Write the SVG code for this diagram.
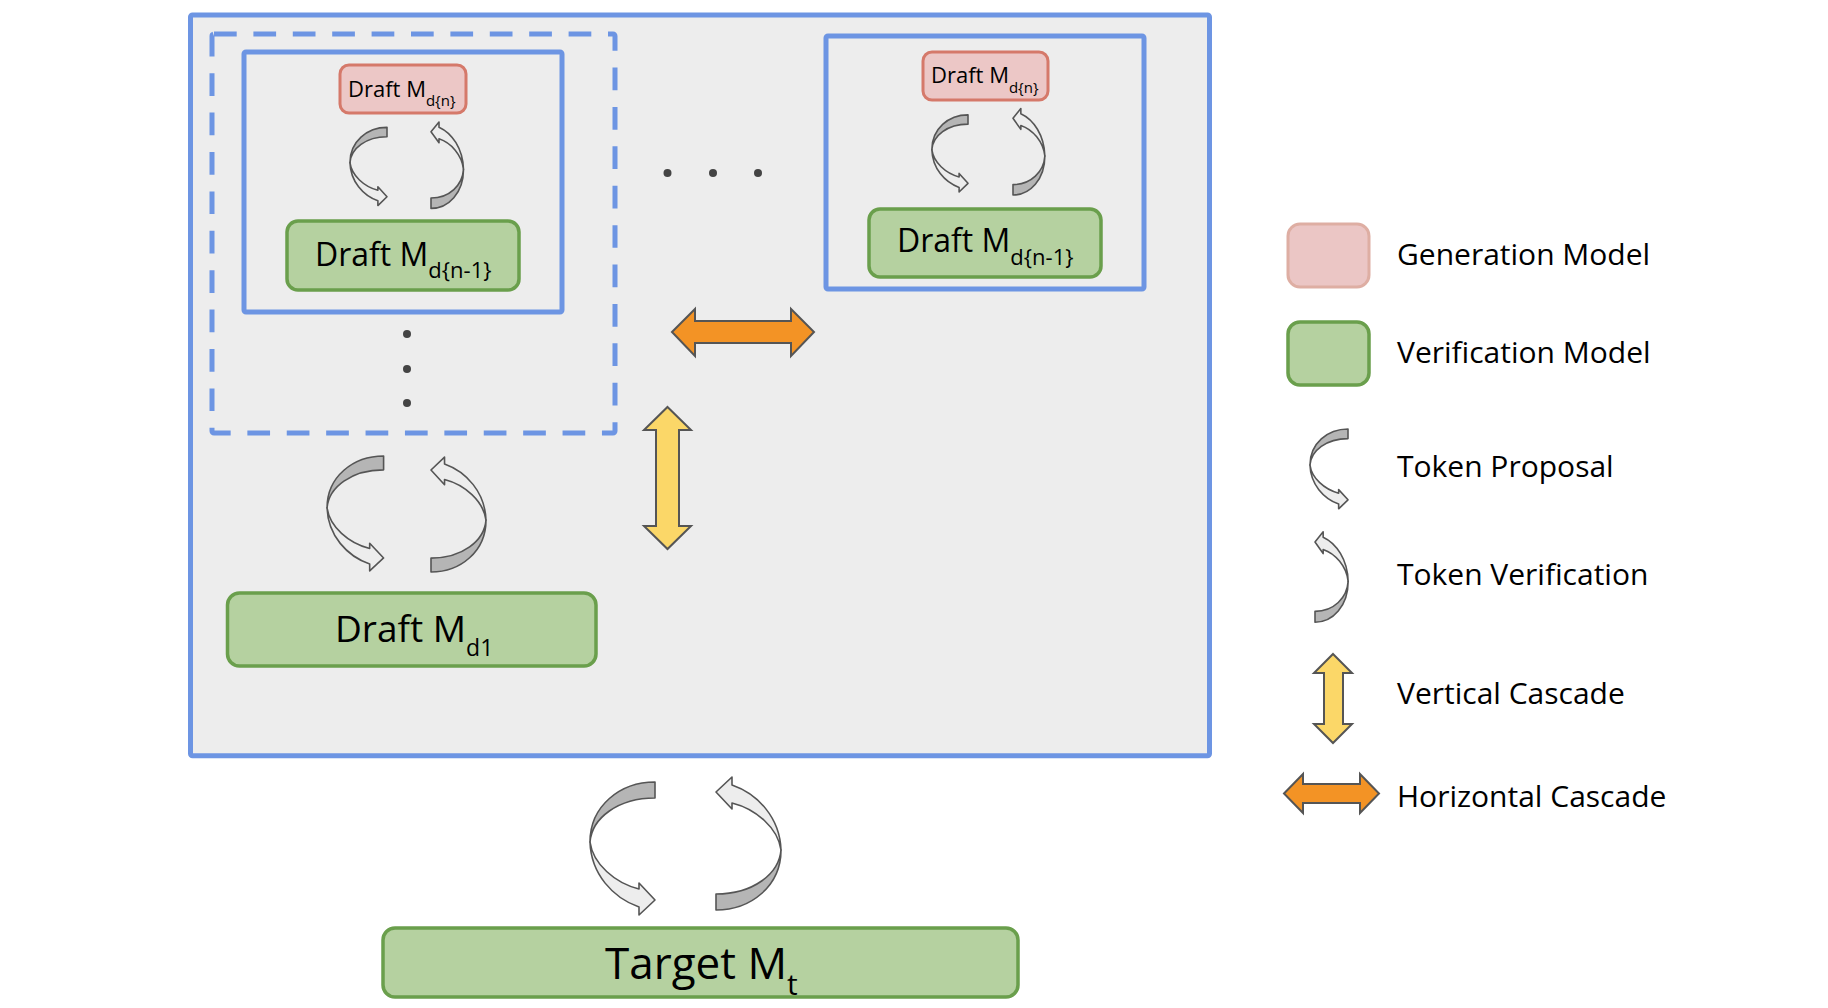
<svg xmlns="http://www.w3.org/2000/svg" xmlns:xlink="http://www.w3.org/1999/xlink" width="1828" height="1008" viewBox="0 0 1828 1008">
<style>
  .txt { font-family: "Open Sans", "Liberation Sans", sans-serif; font-weight: 500; fill: #000; }
  .blue { fill: none; stroke: #6d95e3; stroke-width: 5; }
  .pink { fill: #ecc7c6; stroke: #d5796a; stroke-width: 3; }
  .green { fill: #b5d1a0; stroke: #6a9f4c; stroke-width: 3.5; }
  .dark { fill: #b5b5b5; stroke: #555; stroke-width: 1.6; vector-effect: non-scaling-stroke; stroke-linejoin: round; }
  .light { fill: #ededed; stroke: #555; stroke-width: 1.6; vector-effect: non-scaling-stroke; stroke-linejoin: round; }
  .orange { fill: #f39325; stroke: #555; stroke-width: 2; stroke-linejoin: miter; }
  .yellow { fill: #fbd768; stroke: #555; stroke-width: 2; stroke-linejoin: miter; }
  .dot { fill: #444; }
</style>
<defs>
  <g id="arc">
    <path class="dark" d="M 0,-64 L 0,-48 C -37,-48 -63,-28 -65,-4 C -65,-40 -35,-64 0,-64 Z"/>
    <path class="light" d="M -65,-4 C -64,28 -42,52 -16,61 L -16,69 L 0,54 L -16,37 L -16,43 C -40,37 -62,18 -65,-4 Z"/>
  </g>
</defs>
<rect x="0" y="0" width="1828" height="1008" fill="#ffffff"/>

<g id="container">
  <rect x="190.5" y="15" width="1019" height="740.7" fill="#ededed" stroke="#6d95e3" stroke-width="5" rx="2"/>
</g>
<g id="cascade-group">
  <rect x="212" y="34" width="403" height="399" class="blue" stroke-dasharray="22.7 16.7" rx="2"/>
</g>
<g id="level-n-left">
  <rect x="244" y="52" width="318" height="260" class="blue" rx="2"/>
</g>
<g id="level-n-right">
  <rect x="826" y="36" width="318" height="253" class="blue" rx="2"/>
</g>

<g id="draft-dn-left">
  <rect x="340" y="65" width="126" height="48" rx="9" class="pink"/>
  <text class="txt" x="348" y="97" font-size="22">Draft M<tspan font-size="15" y="106">d{n}</tspan></text>
</g>
<g id="draft-dn1-left">
  <rect x="287" y="221" width="232" height="69" rx="11" class="green"/>
  <text class="txt" x="315" y="266" font-size="32">Draft M<tspan font-size="22" y="278">d{n-1}</tspan></text>
</g>
<g id="draft-dn-right">
  <rect x="923" y="52" width="125" height="48" rx="9" class="pink"/>
  <text class="txt" x="931" y="83" font-size="22">Draft M<tspan font-size="15" y="93">d{n}</tspan></text>
</g>
<g id="draft-dn1-right">
  <rect x="869" y="209" width="232" height="68" rx="11" class="green"/>
  <text class="txt" x="897" y="252" font-size="32">Draft M<tspan font-size="22" y="265">d{n-1}</tspan></text>
</g>
<g id="draft-d1">
  <rect x="227.5" y="593" width="368.5" height="73" rx="12" class="green"/>
  <text class="txt" x="335" y="642" font-size="37">Draft M<tspan font-size="23" y="656">d1</tspan></text>
</g>
<g id="target">
  <rect x="383" y="928" width="635" height="69" rx="12" class="green"/>
  <text class="txt" x="605" y="979" font-size="44">Target M<tspan font-size="30" y="995">t</tspan></text>
</g>

<g id="ellipsis">
  <circle class="dot" cx="407" cy="334" r="4"/>
  <circle class="dot" cx="407" cy="369" r="4"/>
  <circle class="dot" cx="407" cy="403" r="4"/>
  <circle class="dot" cx="667.5" cy="173" r="4"/>
  <circle class="dot" cx="713" cy="173" r="4"/>
  <circle class="dot" cx="758" cy="173" r="4"/>
</g>

<g id="connectors">
  <use xlink:href="#arc" href="#arc" transform="translate(387,165) scale(0.57,0.588)"/>
  <use xlink:href="#arc" href="#arc" transform="translate(431,166.8) rotate(180) scale(0.5,0.65)"/>
  <use xlink:href="#arc" href="#arc" transform="translate(968,152) scale(0.556,0.58)"/>
  <use xlink:href="#arc" href="#arc" transform="translate(1013,153.4) rotate(180) scale(0.49,0.65)"/>
  <use xlink:href="#arc" href="#arc" transform="translate(383.6,511.3) scale(0.87,0.864)"/>
  <use xlink:href="#arc" href="#arc" transform="translate(431,516.7) rotate(180) scale(0.846,0.864)"/>
  <use xlink:href="#arc" href="#arc" transform="translate(655,846)"/>
  <use xlink:href="#arc" href="#arc" transform="translate(716,846) rotate(180)"/>
  <polygon class="orange" points="672,332 695,309 695,321 791,321 791,309 814,332 791,356 791,343 695,343 695,356"/>
  <polygon class="yellow" points="667.5,407 691,430 679,430 679,526 691,526 667.5,549 644,526 656,526 656,430 644,430"/>
</g>

<g id="legend">
  <g id="legend-generation">
    <rect x="1288" y="224" width="81" height="63" rx="12" fill="#ebc6c5" stroke="#deaea3" stroke-width="3"/>
    <text class="txt" x="1397" y="265" font-size="30">Generation Model</text>
  </g>
  <g id="legend-verification">
    <rect x="1288" y="322" width="81" height="63" rx="12" class="green"/>
    <text class="txt" x="1397" y="363" font-size="30">Verification Model</text>
  </g>
  <g id="legend-proposal">
    <use xlink:href="#arc" href="#arc" transform="translate(1348,467.4) scale(0.585,0.6)"/>
    <text class="txt" x="1397" y="477" font-size="30">Token Proposal</text>
  </g>
  <g id="legend-verification-arrow">
    <use xlink:href="#arc" href="#arc" transform="translate(1315,578.7) rotate(180) scale(0.51,0.68)"/>
    <text class="txt" x="1397" y="585" font-size="30">Token Verification</text>
  </g>
  <g id="legend-vertical">
    <polygon class="yellow" points="1333,654 1352,673 1343,673 1343,724 1352,724 1333,743 1314,724 1324,724 1324,673 1314,673"/>
    <text class="txt" x="1397" y="704" font-size="30">Vertical Cascade</text>
  </g>
  <g id="legend-horizontal">
    <polygon class="orange" points="1284,793.5 1303,774 1303,784 1360,784 1360,774 1379,793.5 1360,813 1360,803 1303,803 1303,813"/>
    <text class="txt" x="1397" y="807" font-size="30">Horizontal Cascade</text>
  </g>
</g>
</svg>
